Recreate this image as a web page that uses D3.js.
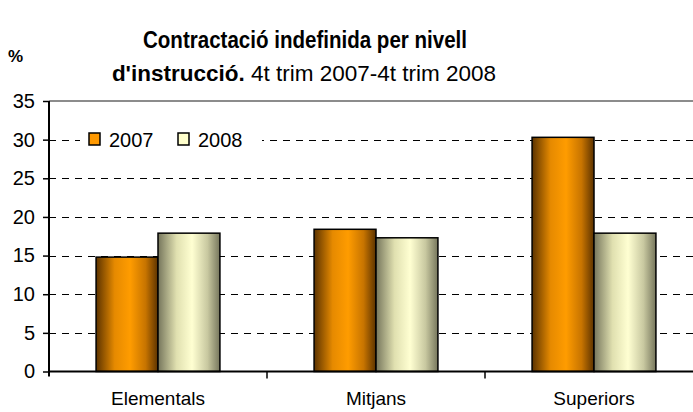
<!DOCTYPE html>
<html>
<head>
<meta charset="utf-8">
<script src="https://cdn.jsdelivr.net/npm/d3@7"></script>
<style>
  body { margin: 0; background: #fff; }
  svg { display: block; font-family: "Liberation Sans", Arial, sans-serif; }
</style>
</head>
<body>
<svg id="chart" width="693" height="412"></svg>
<script>
// data
const categories = ["Elementals", "Mitjans", "Superiors"];
const seriesNames = ["2007", "2008"];
const values2007 = [14.8, 18.4, 30.3];
const values2008 = [17.9, 17.3, 17.9];
const yTicks = [0, 5, 10, 15, 20, 25, 30, 35];

const svg = d3.select("#chart");
const pLeft = 49, pTop = 101, pBottom = 371.5;
const bandW = 218;

// gradients for the bars
const defs = svg.append("defs");
function addGrad(id, stops) {
    const g = defs.append("linearGradient").attr("id", id)
        .attr("x1", "0%").attr("x2", "100%").attr("y1", "0%").attr("y2", "0%");
    stops.forEach(s => g.append("stop").attr("offset", s[0]).attr("stop-color", s[1]));
}
addGrad("gOrange", [[0, "#5c3300"], [0.3, "#e68a00"], [0.55, "#ff9c00"], [0.8, "#c77400"], [1, "#5c3300"]]);
addGrad("gPale", [[0, "#76765c"], [0.3, "#e0e0b0"], [0.55, "#ffffd2"], [0.8, "#c8c8a0"], [1, "#76765c"]]);
const fills = ["url(#gOrange)", "url(#gPale)"];
const legendFills = ["#ff9900", "#ffffcc"];

const x = d3.scaleBand().domain(categories)
    .range([pLeft, pLeft + bandW * categories.length]).paddingInner(0).paddingOuter(0);
const xs = d3.scaleBand().domain(seriesNames).range([0, bandW]).paddingInner(0).paddingOuter(0.76);
const y = d3.scaleLinear().domain([0, 35]).range([pBottom, pTop]);

// grid
svg.append("g").selectAll("line")
    .data(yTicks.filter(d => d > 0 && d < 35))
    .enter().append("line")
    .attr("x1", pLeft).attr("x2", 693)
    .attr("y1", d => Math.round(y(d)) + 0.5).attr("y2", d => Math.round(y(d)) + 0.5)
    .attr("stroke", "#000").attr("stroke-dasharray", "7,6");

svg.append("line")
    .attr("x1", pLeft).attr("x2", 693)
    .attr("y1", pTop).attr("y2", pTop)
    .attr("stroke", "#8c8c8c").attr("stroke-width", 2);

// legend background
svg.append("rect").attr("x", 80).attr("y", 127).attr("width", 182).attr("height", 26).attr("fill", "#fff");

// bars
const rows = categories.map((c, i) => ({ cat: c, vals: [values2007[i], values2008[i]] }));
const groups = svg.append("g").selectAll("g").data(rows).enter().append("g")
    .attr("transform", d => "translate(" + x(d.cat) + ",0)");
groups.selectAll("rect")
    .data(d => d.vals.map((v, j) => ({ s: seriesNames[j], v: v, j: j })))
    .enter().append("rect")
    .attr("x", d => xs(d.s))
    .attr("width", xs.bandwidth())
    .attr("y", d => y(d.v))
    .attr("height", d => y(0) - y(d.v))
    .attr("fill", d => fills[d.j])
    .attr("stroke", "#000").attr("stroke-width", 1.5);

// y axis
const yAxis = svg.append("g").attr("transform", "translate(" + pLeft + ",0)")
    .call(d3.axisLeft(y).tickValues(yTicks).tickSize(6).tickPadding(8));
yAxis.select(".domain").attr("stroke", "#000").attr("stroke-width", 2).attr("d", "M0," + pTop + "V" + (pBottom + 5));
yAxis.selectAll(".tick line").attr("stroke", "#000").attr("stroke-width", 1.5);
yAxis.selectAll("text").attr("font-size", 20).attr("fill", "#000")
    .attr("font-family", "'Liberation Sans', Arial, sans-serif");

// x axis
const xAxis = svg.append("g").attr("transform", "translate(0," + pBottom + ")")
    .call(d3.axisBottom(x).tickSize(0).tickPadding(20));
xAxis.select(".domain").attr("stroke", "#000").attr("stroke-width", 2).attr("d", "M" + pLeft + ",0H693");
xAxis.selectAll("text").attr("font-size", 19).attr("fill", "#000")
    .attr("font-family", "'Liberation Sans', Arial, sans-serif");
svg.append("g").selectAll("line")
    .data(categories.slice(1))
    .enter().append("line")
    .attr("x1", d => x(d)).attr("x2", d => x(d))
    .attr("y1", pBottom).attr("y2", pBottom + 7)
    .attr("stroke", "#000").attr("stroke-width", 1.5);

// legend
const leg = svg.append("g").selectAll("g").data(seriesNames).enter().append("g")
    .attr("transform", (d, i) => "translate(" + (89 + i * 89) + ",133)");
leg.append("rect").attr("width", 11).attr("height", 12)
    .attr("fill", (d, i) => legendFills[i]).attr("stroke", "#000").attr("stroke-width", 1.5);
leg.append("text").attr("x", 20).attr("y", 14).attr("font-size", 20).text(d => d);

// titles
svg.append("text").attr("x", 305).attr("y", 48).attr("text-anchor", "middle")
    .attr("font-size", 23).attr("font-weight", "bold")
    .attr("textLength", 324).attr("lengthAdjust", "spacingAndGlyphs")
    .text("Contractació indefinida per nivell");
const t2 = svg.append("text").attr("x", 304).attr("y", 81).attr("text-anchor", "middle").attr("font-size", 22.5);
t2.append("tspan").attr("font-weight", "bold").text("d'instrucció.");
t2.append("tspan").text(" 4t trim 2007-4t trim 2008");

svg.append("text").attr("x", 8).attr("y", 62).attr("font-size", 17).attr("font-weight", "bold").text("%");
</script>
</body>
</html>
